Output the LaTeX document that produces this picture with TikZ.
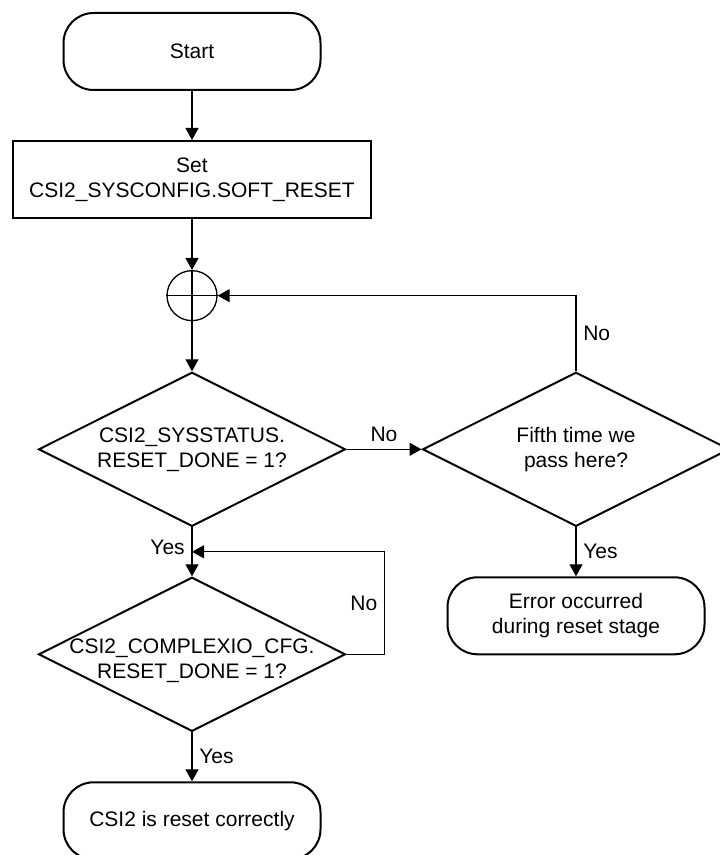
\documentclass[tikz,border=0pt]{standalone}
\usepackage{fontspec}
\setmainfont{Liberation Sans}
\usepackage{tikz}
\usetikzlibrary{arrows.meta, positioning, shapes.geometric, calc}

\begin{document}
\begin{tikzpicture}[
			x=0.5pt, y=-0.5pt,
			font=\fontsize{10.5}{12.5}\selectfont,
			terminal/.style={rectangle, draw, line width=1pt, rounded corners=15pt, minimum width=128.5pt, minimum height=38.5pt, align=center},
			process/.style={rectangle, draw, line width=1pt, minimum width=179pt, minimum height=38.5pt, align=center},
			decision/.style={diamond, draw, line width=1pt, minimum width=153.5pt, minimum height=77pt, inner sep=0pt},
			junction/.style={circle, draw, line width=0.65pt, minimum size=25pt, inner sep=0pt},
			arrow/.style={-{Triangle[length=6pt, width=6.5pt]}, line width=0.65pt}
		]
		\useasboundingbox (0,0) rectangle (719,855);
		\node[terminal] (start) at (192,51.5) {Start};
		\node[process, below=24.5pt of start] (setreset) {Set\\CSI2\_SYSCONFIG.SOFT\_RESET};
		\node[junction, below=25.5pt of setreset] (join) {};
		\node[decision, below=25pt of join, label={[align=center]center:{CSI2\_SYSSTATUS.\\RESET\_DONE = 1?}}] (sysstat) {};
		\node[decision, right=37.5pt of sysstat, label={[align=center]center:{Fifth time we\\pass here?}}] (fifth) {};
		\node[decision, below=24.5pt of sysstat, label={[align=center, yshift=-3pt]center:{CSI2\_COMPLEXIO\_CFG.\\RESET\_DONE = 1?}}] (cfgchk) {};
		\node[terminal, below=24.5pt of fifth] (error) {Error occurred\\during reset stage};
		\node[terminal, below=24.5pt of cfgchk] (done) {CSI2 is reset correctly};
		\coordinate (loopin) at ($(sysstat.south)!0.5!(cfgchk.north)$);
		
		\draw[line width=0.65pt] (join.north) -- (join.south) (join.west) -- (join.east);
		\draw[arrow] (start) -- (setreset);
		\draw[arrow] (setreset) -- (join);
		\draw[arrow] (join) -- (sysstat);
		\draw[arrow] (sysstat.east) -- node[above] {No} (fifth.west);
		\draw[arrow] (fifth.north) |- node[pos=0.25, right] {No} (join.east);
		\draw[arrow] (fifth.south) -- node[right] {Yes} (error);
		\draw[arrow] (sysstat.south) -- node[pos=0.4, left] {Yes} (cfgchk.north);
		\draw[arrow] (cfgchk.east) -- ++(38,0) |- node[pos=0.25, left] {No} (loopin);
		\draw[arrow] (cfgchk.south) -- node[right] {Yes} (done);
		\end{tikzpicture}
\end{document}
